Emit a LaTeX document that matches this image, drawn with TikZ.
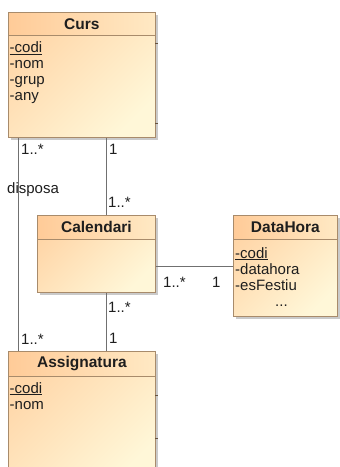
\documentclass[tikz,border=0pt]{standalone}
\usepackage{fontspec}
\setmainfont{Liberation Sans}
\usetikzlibrary{shadows}

\definecolor{boxline}{HTML}{A88B6B}
\definecolor{headA}{HTML}{FFCB98}
\definecolor{headB}{HTML}{FFE9C4}
\definecolor{bodyA}{HTML}{FFD6A8}
\definecolor{bodyB}{HTML}{FFF7D8}
\definecolor{assoccol}{HTML}{707070}
\definecolor{ink}{HTML}{1E1E1E}

\begin{document}
\begin{tikzpicture}[x=1pt, y=-1pt,
    every node/.style={font=\fontsize{15}{16}\selectfont, text=ink},
    classbox/.style={draw=boxline, line width=0.8pt, inner sep=0pt, anchor=north west,
        left color=bodyA, right color=bodyB, shading angle=45,
        drop shadow={shadow xshift=2.5pt, shadow yshift=-2.5pt, fill=black!35, opacity=0.6}},
    classhead/.style={draw=boxline, line width=0.8pt, inner sep=0pt, anchor=north west,
        left color=headA, right color=headB, font=\fontsize{15.5}{16}\selectfont\bfseries},
    attr/.style={anchor=base west, inner sep=0pt},
    mult/.style={anchor=base west, inner sep=0pt},
    assoc/.style={draw=assoccol, line width=0.8pt}]

    \useasboundingbox (0,0) rectangle (340,467);
    \clip (0,0) rectangle (340,467);

    % classes
    \node[classbox, minimum width=147pt, minimum height=125pt] (curs) at (8,12) {};
    \node[classhead, minimum width=147pt, minimum height=23pt] (cursh) at (8,12) {Curs};
    \node[attr] (c1) at (9.5,52.5) {\underline{-codi}};
    \node[attr] (c2) at (9.5,68.5) {-nom};
    \node[attr] (c3) at (9.5,84.5) {-grup};
    \node[attr] (c4) at (9.5,100.5) {-any};

    \node[classbox, minimum width=118pt, minimum height=77pt] (cal) at (37,215) {};
    \node[classhead, minimum width=118pt, minimum height=24pt] (calh) at (37,215) {Calendari};

    \node[classbox, minimum width=104pt, minimum height=101pt] (dh) at (233,215) {};
    \node[classhead, minimum width=104pt, minimum height=24pt] (dhh) at (233,215) {DataHora};
    \node[attr] (d1) at (235,258) {\underline{-codi}};
    \node[attr] (d2) at (235,274) {-datahora};
    \node[attr] (d3) at (235,290) {-esFestiu};
    \node[attr] (d4) at (275,306) {...};

    \node[classbox, minimum width=147pt, minimum height=130pt] (asg) at (8,351) {};
    \node[classhead, minimum width=147pt, minimum height=25pt] (asgh) at (8,351) {Assignatura};
    \node[attr] (a1) at (9.5,393) {\underline{-codi}};
    \node[attr] (a2) at (9.5,409) {-nom};

    % handles on the right edges
    \draw[boxline!60!black, line width=1pt] (155,43) -- (157.5,43);
    \draw[boxline!60!black, line width=1pt] (155,123) -- (157.5,123);
    \draw[boxline!60!black, line width=1pt] (155,395) -- (157.5,395);
    \draw[boxline!60!black, line width=1pt] (155,438) -- (157.5,438);

    % associations
    \coordinate (xl) at (18,0);
    \coordinate (xr) at (106,0);
    \draw[assoc] (xl |- curs.south) -- (xl |- asg.north);
    \draw[assoc] (xr |- curs.south) -- (xr |- cal.north);
    \draw[assoc] (xr |- cal.south) -- (xr |- asg.north);
    \draw[assoc] (cal.east |- dh.west) -- (dh.west);

    \node[mult] (m1) at (21,154) {1..*};
    \node[mult] (m2) at (109,154) {1};
    \node[mult] (dis) at (7,193) {disposa};
    \node[mult] (m3) at (108,207) {1..*};
    \node[mult] (m4) at (163,287) {1..*};
    \node[mult] (m5) at (212,287) {1};
    \node[mult] (m6) at (108,312) {1..*};
    \node[mult] (m7) at (109,343) {1};
    \node[mult] (m8) at (21,344) {1..*};

\end{tikzpicture}
\end{document}
